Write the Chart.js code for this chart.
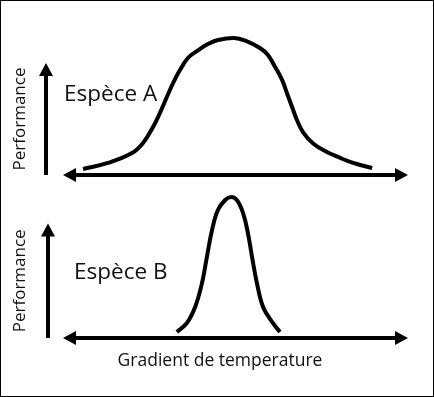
<!DOCTYPE html>
<html>
<head>
<meta charset="utf-8">
<script src="https://cdn.jsdelivr.net/npm/chart.js@4.4.0/dist/chart.umd.min.js"></script>
<style>
  html, body { margin: 0; padding: 0; background: #fff; }
  .panel { position: absolute; left: 0; }
  #frame {
    position: absolute; left: 0; top: 0; width: 434px; height: 397px;
    box-sizing: border-box; border: 1px solid #000; pointer-events: none;
  }
</style>
</head>
<body>
<canvas id="chartA" class="panel" width="434" height="190" style="top:0"></canvas>
<canvas id="chartB" class="panel" width="434" height="207" style="top:190px"></canvas>
<div id="frame"></div>
<script>
// temperature gradient (arbitrary 0-100) and performance (0-10)
const tempA = [5.8, 13, 20, 23.2, 26.1, 28.1, 30.1, 31.9, 33.9, 36.2, 38.8, 42, 44.9, 49.6, 53, 57.1, 59.4, 61.4, 63.5, 64.9, 66.4, 67.8, 69.6, 72.5, 76.5, 79.7, 84.1, 89.6];
const perfA = [0.43, 0.86, 1.57, 2.29, 3.43, 4.43, 5.57, 6.57, 7.5, 8.36, 8.85, 9.35, 9.64, 9.79, 9.58, 9.07, 8.57, 7.75, 6.8, 5.86, 4.86, 3.93, 3.05, 2.25, 1.64, 1.29, 0.86, 0.5];

const tempB = [33, 35.9, 38.3, 40.3, 41.7, 43.2, 44.9, 47, 48.7, 50.4, 52.2, 53.6, 54.8, 56.2, 58, 60.6, 62.9];
const perfB = [0.42, 1.05, 2.17, 3.85, 5.66, 7.55, 8.95, 9.65, 9.86, 9.65, 8.74, 7.34, 5.66, 3.85, 2.17, 1.12, 0.42];

const yLabel = 'Performance';
const xLabel = 'Gradient de temperature';
const FONT = '"Open Sans", "Noto Sans", sans-serif';

function arrowHead(ctx, x, y, dir) {
    const len = 13, half = 7;
    ctx.beginPath();
    if (dir === 'left') {
        ctx.moveTo(x, y); ctx.lineTo(x + len, y - half); ctx.lineTo(x + len, y + half);
    } else if (dir === 'right') {
        ctx.moveTo(x, y); ctx.lineTo(x - len, y - half); ctx.lineTo(x - len, y + half);
    } else {
        ctx.moveTo(x, y); ctx.lineTo(x - half, y + len); ctx.lineTo(x + half, y + len);
    }
    ctx.closePath();
    ctx.fill();
}

// draws the arrow axes and the labels of each panel
const arrowAxes = {
    id: 'arrowAxes',
    afterDatasetsDraw(chart, args, opts) {
        const { ctx, chartArea, scales: { x, y } } = chart;
        const y0 = y.getPixelForValue(0);
        ctx.save();
        ctx.fillStyle = '#000';
        ctx.strokeStyle = '#000';
        ctx.lineWidth = 4;

        ctx.beginPath();
        ctx.moveTo(chartArea.left + 10, y0);
        ctx.lineTo(chartArea.right - 10, y0);
        ctx.stroke();
        arrowHead(ctx, chartArea.left, y0, 'left');
        arrowHead(ctx, chartArea.right, y0, 'right');

        const ax = chartArea.left - opts.gap;
        const yTop = y.getPixelForValue(8);
        ctx.beginPath();
        ctx.moveTo(ax, y0);
        ctx.lineTo(ax, yTop + 10);
        ctx.stroke();
        arrowHead(ctx, ax, yTop, 'up');

        ctx.fillStyle = '#111';
        ctx.font = '17px ' + FONT;
        ctx.textAlign = 'center';
        ctx.textBaseline = 'middle';
        ctx.save();
        ctx.translate(20, y.getPixelForValue(4));
        ctx.rotate(-Math.PI / 2);
        ctx.fillText(yLabel, 0, 0);
        ctx.restore();

        ctx.font = '22.5px ' + FONT;
        ctx.textAlign = 'left';
        ctx.textBaseline = 'alphabetic';
        ctx.fillText(opts.species, opts.labelX, y.getPixelForValue(opts.labelY));

        if (opts.showX) {
            ctx.font = '17.5px ' + FONT;
            ctx.textAlign = 'center';
            ctx.fillText(xLabel, 220, y0 + 28);
        }
        ctx.restore();
    }
};

function makeChart(id, temps, perfs, padding, axisOpts) {
    const ctx = document.getElementById(id).getContext('2d');
    return new Chart(ctx, {
        type: 'line',
        data: {
            datasets: [{
                data: temps.map((t, i) => ({ x: t, y: perfs[i] })),
                borderColor: '#000',
                borderWidth: 4,
                pointRadius: 0,
                tension: 0.4,
                fill: false
            }]
        },
        options: {
            responsive: false,
            animation: false,
            devicePixelRatio: 1,
            layout: { padding: padding },
            plugins: {
                legend: { display: false },
                tooltip: { enabled: false },
                arrowAxes: axisOpts
            },
            scales: {
                x: { type: 'linear', min: 0, max: 100, display: false },
                y: { min: 0, max: 10, display: false }
            }
        },
        plugins: [arrowAxes]
    });
}

makeChart('chartA', tempA, perfA,
    { left: 63, right: 26, top: 35, bottom: 15 },
    { gap: 17, species: 'Espèce A', labelX: 64, labelY: 5.29, showX: false });

makeChart('chartB', tempB, perfB,
    { left: 63, right: 26, top: 5, bottom: 59 },
    { gap: 15, species: 'Espèce B', labelX: 74, labelY: 4.13, showX: true });
</script>
</body>
</html>
